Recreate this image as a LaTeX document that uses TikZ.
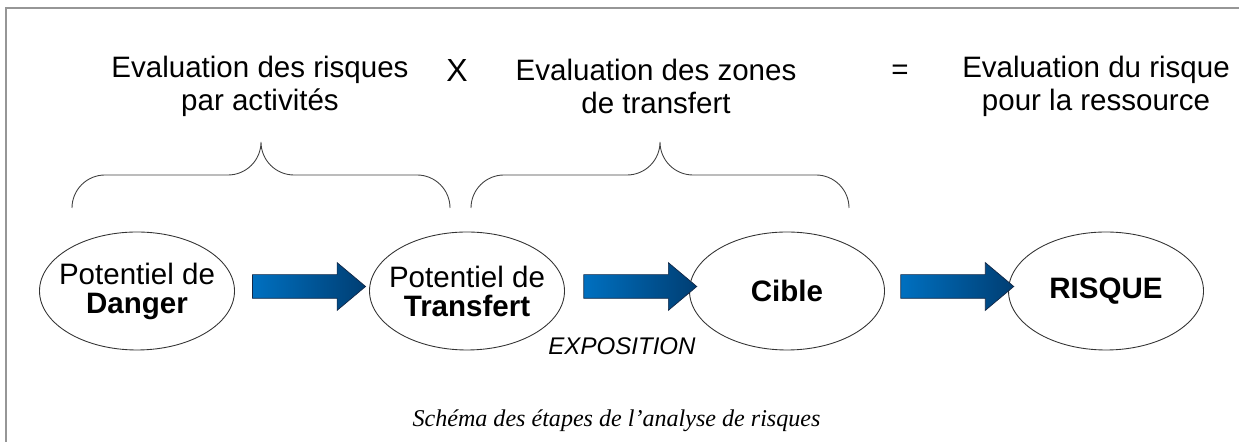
\documentclass[tikz,border=0pt]{standalone}
\usepackage{fontspec}
\setmainfont{Liberation Sans}
\newfontfamily\captionfont{Liberation Serif}
\usetikzlibrary{shapes.geometric,shapes.arrows,calc}

\definecolor{framegray}{RGB}{150,150,150}
\definecolor{arrowlight}{RGB}{0,112,192}
\definecolor{arrowdark}{RGB}{0,62,115}
\definecolor{arrowline}{RGB}{20,40,70}

\tikzset{
  stage/.style={ellipse,draw=black!80,line width=0.5pt,minimum width=3.9cm,
    minimum height=2.36cm,inner xsep=-0.2cm,inner ysep=0pt,align=center,
    font=\fontsize{16.8}{16.5}\selectfont},
  flow/.style={single arrow,draw=arrowline,line width=0.4pt,minimum height=2.26cm,
    minimum width=0.94cm,single arrow head extend=0.24cm,single arrow tip angle=80,
    inner xsep=0pt,inner ysep=0.23cm,left color=arrowlight,right color=arrowdark,
    yshift=0.09cm},
  heading/.style={align=center,font=\fontsize{16.8}{18.8}\selectfont},
  bracket/.style={draw=black!75,line width=0.5pt}
}

\begin{document}
\begin{tikzpicture}
\useasboundingbox (0,0) rectangle (24.78,8.84);
\draw[framegray,line width=1.2pt] (0.12,0) -- (0.12,8.68) -- (24.78,8.68);
%
\node[heading](evalact) at (5.2,7.12) {Evaluation des risques\\par activités};
\node[font=\fontsize{18.2}{20}\selectfont](times) at (9.14,7.43) {X};
\node[heading](evalzones) at (13.12,7.12) {Evaluation des zones\\de transfert};
\node[heading](equals) at (18.0,7.40) {=};
\node[heading](evalres) at (21.92,7.12) {Evaluation du risque\\pour la ressource};
%
\draw[bracket] (1.44,4.68) arc[start angle=180,end angle=90,radius=0.66] -- (4.56,5.34)
  arc[start angle=270,end angle=360,radius=0.66] arc[start angle=180,end angle=270,radius=0.66]
  -- (8.34,5.34) arc[start angle=90,end angle=0,radius=0.66];
\draw[bracket] (9.42,4.68) arc[start angle=180,end angle=90,radius=0.66] -- (12.54,5.34)
  arc[start angle=270,end angle=360,radius=0.66] arc[start angle=180,end angle=270,radius=0.66]
  -- (16.32,5.34) arc[start angle=90,end angle=0,radius=0.66];
%
\node[stage](danger) at (2.74,3.02) {Potentiel de\\\textbf{Danger}};
\node[stage](transfert) at (9.34,3.02) {Potentiel de\\\textbf{Transfert}};
\node[stage](cible) at (15.74,3.02) {\textbf{Cible}};
\node[stage](risque) at (22.12,3.02) {\textbf{RISQUE}};
%
\node[flow](dangertransfert) at ($(danger.east)!0.5!(transfert.west)$) {};
\node[flow](transfertcible) at ($(transfert.east)!0.55!(cible.west)$) {};
\node[flow](ciblerisque) at ($(cible.east)!0.53!(risque.west)$) {};
%
\node[font=\itshape\fontsize{13.7}{15}\selectfont,anchor=base](expo) at (12.44,1.74) {EXPOSITION};
%
\node[font=\captionfont\itshape\fontsize{13.7}{15}\selectfont,anchor=base](legende) at (12.33,0.3)
  {Schéma des étapes de l’analyse de risques};
\end{tikzpicture}
\end{document}
